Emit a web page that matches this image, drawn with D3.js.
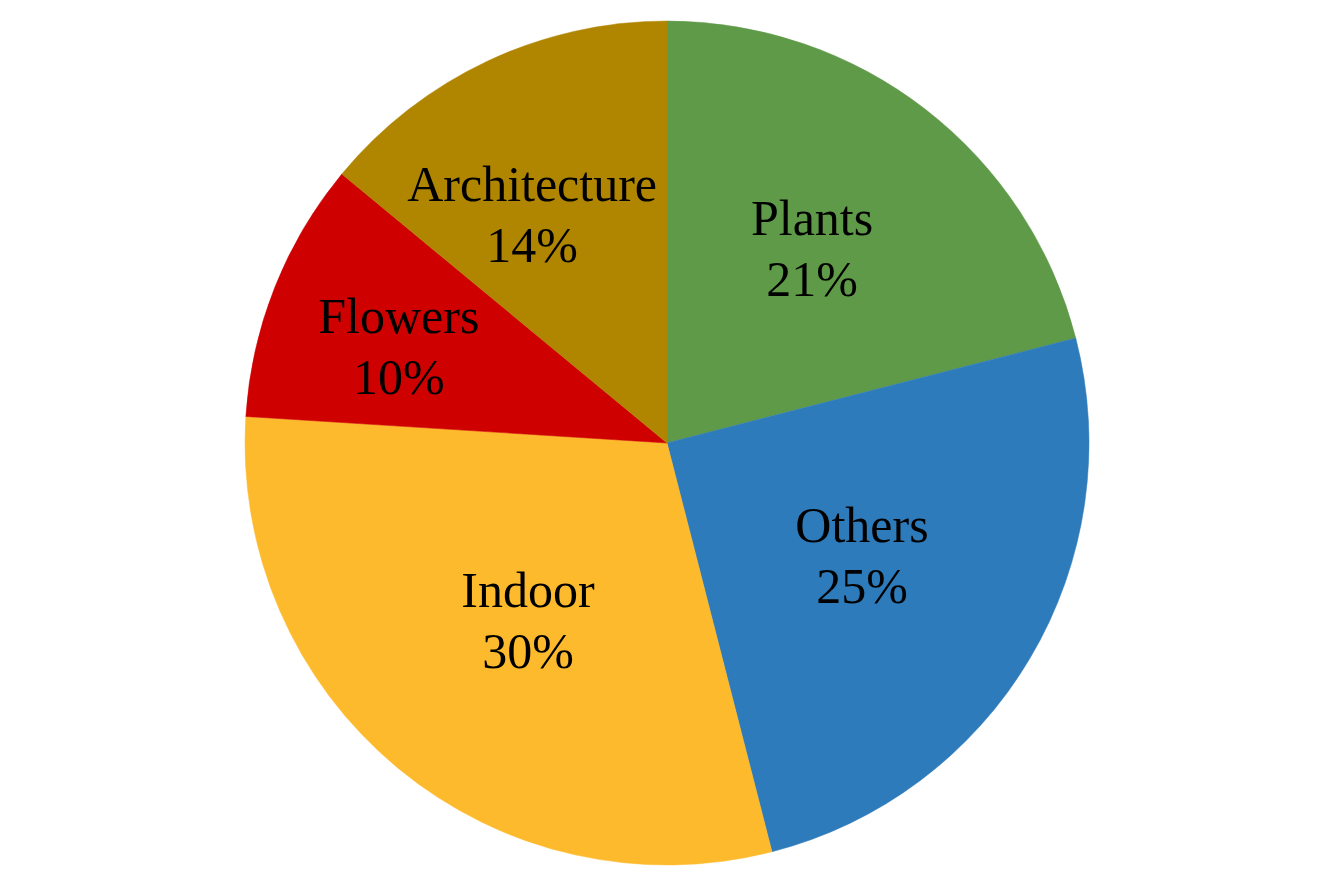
<!DOCTYPE html>
<html>
<head>
<meta charset="utf-8">
<script src="https://cdn.jsdelivr.net/npm/d3@7"></script>
<style>
  html, body { margin: 0; padding: 0; background: #fff; }
  text { font-family: "Liberation Serif", "Times New Roman", serif; }
</style>
</head>
<body>
<script>

// Slice data, clockwise from 12 o'clock.
var categories = ['Plants', 'Others', 'Indoor', 'Flowers', 'Architecture'];
var shares = [21, 25, 30, 10, 14];
var colors = ['#5f9a48', '#2e7bbb', '#fdba2c', '#cf0000', '#b08500'];

// Best-fit label placement: distance (fraction of radius) and angle nudge (degrees).
var labelRadius = [0.574, 0.534, 0.535, 0.675, 0.628];
var labelShift = [-1, -0.5, -1.6, -1.9, -5.4];

var width = 1334;
var height = 889;
var cx = 667;
var cy = 443;
var radius = 422;

var svg = d3.select('body').append('svg')
  .attr('width', width)
  .attr('height', height);

var g = svg.append('g')
  .attr('transform', 'translate(' + cx + ',' + cy + ')');

// Build the layout.
var pie = d3.pie().sort(null).value(function(d) { return d.value; });
var arcs = pie(categories.map(function(c, i) {
  return { name: c, value: shares[i], color: colors[i], lr: labelRadius[i], ls: labelShift[i] };
}));

var arc = d3.arc().innerRadius(0).outerRadius(radius);

// Slices.
g.selectAll('path.slice')
  .data(arcs)
  .enter().append('path')
  .attr('class', 'slice')
  .attr('d', arc)
  .attr('fill', function(d) { return d.data.color; })
  .attr('stroke', function(d) { return d.data.color; })
  .attr('stroke-width', 0.5);

// Labels.
var total = d3.sum(shares);
var labels = g.selectAll('text.label')
  .data(arcs)
  .enter().append('text')
  .attr('class', 'label')
  .attr('text-anchor', 'middle')
  .attr('font-size', 50)
  .attr('fill', '#000')
  .attr('transform', function(d) {
    var a = (d.startAngle + d.endAngle) / 2 + d.data.ls * Math.PI / 180;
    var r = radius * d.data.lr;
    return 'translate(' + (Math.sin(a) * r) + ',' + (-Math.cos(a) * r) + ')';
  });

labels.append('tspan')
  .attr('x', 0)
  .attr('y', -14)
  .text(function(d) { return d.data.name; });

labels.append('tspan')
  .attr('x', 0)
  .attr('y', 47)
  .text(function(d) { return Math.round(d.data.value / total * 100) + '%'; });

</script>
</body>
</html>
